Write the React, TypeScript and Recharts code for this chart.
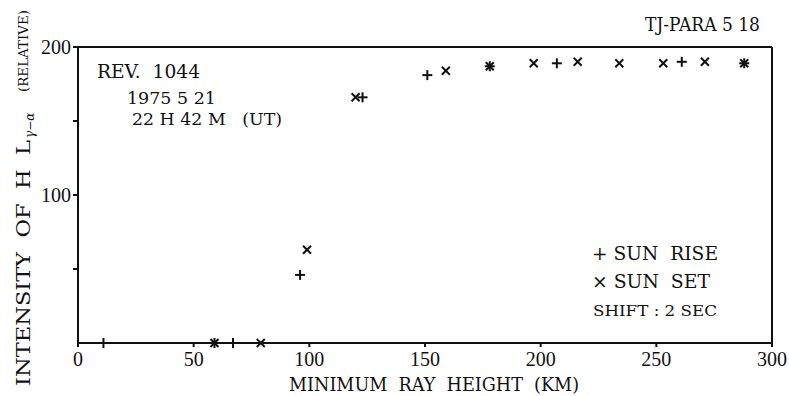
import React from "react"
import {
  ScatterChart,
  Scatter,
  XAxis,
  YAxis,
  ReferenceLine,
} from "recharts"

// values (km, relative intensity)
const riseHeight = [11, 59, 67, 96, 123, 151, 178, 207, 261, 288]
const riseIntensity = [0, 0, 0, 46, 166, 181, 187, 189, 190, 189]
const setHeight = [59, 79, 99, 120, 159, 178, 197, 216, 234, 253, 271, 288]
const setIntensity = [0, 0, 63, 166, 184, 187, 189, 190, 189, 189, 190, 189]

const xTicks = [0, 50, 100, 150, 200, 250, 300]
const yTicks = [50, 100, 150, 200]
const yLabelled = [100, 200]

const riseData = riseHeight.map((h, i) => ({ h, v: riseIntensity[i] }))
const setData = setHeight.map((h, i) => ({ h, v: setIntensity[i] }))

const NUM_FONT = "'Liberation Serif', serif"
const FONT = "'DejaVu Serif', 'Liberation Serif', serif"

const Plus = (props: any) => {
  const { cx, cy } = props
  return (
    <g stroke="#111" strokeWidth={2}>
      <line x1={cx - 5} y1={cy} x2={cx + 5} y2={cy} />
      <line x1={cx} y1={cy - 5} x2={cx} y2={cy + 5} />
    </g>
  )
}

const Cross = (props: any) => {
  const { cx, cy } = props
  return (
    <g stroke="#111" strokeWidth={2}>
      <line x1={cx - 4} y1={cy - 4} x2={cx + 4} y2={cy + 4} />
      <line x1={cx - 4} y1={cy + 4} x2={cx + 4} y2={cy - 4} />
    </g>
  )
}

// text fitted to the width it has in the reference
const Txt = ({ x = 0, y = 0, w, size, children, transform }: any) => (
  <text
    x={x}
    y={y}
    fontSize={size}
    textLength={w}
    lengthAdjust="spacingAndGlyphs"
    transform={transform}
    style={{ whiteSpace: "pre" }}
  >
    {children}
  </text>
)

export default function App() {
  return (
    <div style={{ position: "absolute", left: 0, top: 0, width: 789, height: 396, background: "#fff" }}>
      <ScatterChart
        width={789}
        height={396}
        margin={{ top: 47, right: 17, bottom: 23, left: 18 }}
        style={{ fontFamily: NUM_FONT }}
      >
        <XAxis
          type="number"
          dataKey="h"
          domain={[0, 300]}
          ticks={xTicks}
          height={30}
          stroke="#111"
          strokeWidth={2}
          tickSize={4}
          tickMargin={5}
          tick={{ fill: "#111", fontSize: 20, fontFamily: NUM_FONT }}
        />
        <YAxis
          type="number"
          dataKey="v"
          domain={[0, 200]}
          ticks={yTicks}
          width={60}
          stroke="#111"
          strokeWidth={2}
          tickSize={5}
          tick={{ fill: "#111", fontSize: 20, fontFamily: NUM_FONT }}
          tickFormatter={(t: number) => (yLabelled.includes(t) ? String(t) : "")}
        />
        <ReferenceLine y={200} stroke="#111" strokeWidth={2} />
        <ReferenceLine x={300} stroke="#111" strokeWidth={2} />
        <Scatter data={riseData} shape={Plus} isAnimationActive={false} />
        <Scatter data={setData} shape={Cross} isAnimationActive={false} />
      </ScatterChart>
      <svg
        width={789}
        height={396}
        style={{ position: "absolute", left: 0, top: 0, pointerEvents: "none", fontFamily: FONT }}
      >
        <g fill="#111">
          <Txt x={645} y={31} w={115} size={18}>TJ-PARA 5 18</Txt>
          <Txt x={97} y={78} w={103} size={18}>REV.  1044</Txt>
          <Txt x={127} y={104} w={89} size={17}>1975 5 21</Txt>
          <Txt x={132} y={125} w={150} size={17}>22 H 42 M   (UT)</Txt>
          <Txt x={592} y={260} w={126} size={18}>+ SUN  RISE</Txt>
          <Txt x={592} y={288} w={118} size={18}>× SUN  SET</Txt>
          <Txt x={593} y={316} w={124} size={15}>SHIFT : 2 SEC</Txt>
          <Txt x={289} y={391} w={290} size={18}>MINIMUM  RAY  HEIGHT  (KM)</Txt>
          <Txt transform="translate(30,386) rotate(-90)" w={246} size={19}>
            INTENSITY  OF  H  L
          </Txt>
          <text transform="translate(34,138) rotate(-90)" fontSize={12} fontStyle="italic">
            γ−α
          </text>
          <Txt transform="translate(28,92) rotate(-90)" w={82} size={12}>
            (RELATIVE)
          </Txt>
        </g>
      </svg>
    </div>
  )
}
